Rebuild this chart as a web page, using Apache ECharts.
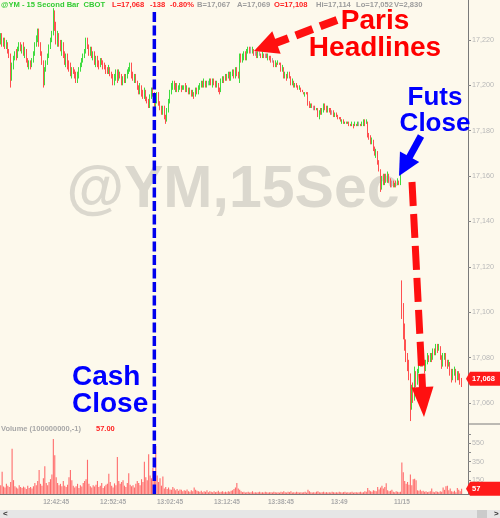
<!DOCTYPE html>
<html><head><meta charset="utf-8">
<script src="https://cdn.jsdelivr.net/npm/echarts@6/dist/echarts.min.js"></script>
<style>html,body{margin:0;padding:0;background:#fdf9ec;}#c{width:500px;height:518px;}</style>
</head><body><div id="c"></div>
<script>
// ---- data ----
const sessions = [
  {day: '11/13', start: '12:33:00', bars: 168},
  {day: '11/13', start: '13:31:30', bars: 114},
  {day: '11/15', start: '15:00:00', bars: 47}
];
const timeTicks = ['12:42:45','12:52:45','13:02:45','13:12:45','13:38:45','13:49:00','11/15 15:00:00'];
const timeTickText = ['12:42:45','12:52:45','13:02:45','13:12:45','13:38:45','13:49','11/15'];
const priceTicks = [17060,17080,17100,17120,17140,17160,17180,17200,17220];
const volumeTicks = [150,350,550];
const volumeTickMarks = [150,250,350,450,550,650];
const cashCloseTime = '13:00:00';
const headerItems = ['@YM - 15 Second Bar  CBOT','L=17,068','-138','-0.80%','B=17,067','A=17,069','O=17,108','Hi=17,114','Lo=17,052','V=2,830'];
// [open, close, low, high]
const ohlc = [
[17220,17222,17218,17223],[17222,17219,17217,17223],[17219,17220,17217,17221],[17220,17218,17216,17221],[17218,17219,17216,17220],
[17219,17215,17214,17219],[17215,17213,17212,17216],[17213,17203,17199,17214],[17203,17209,17202,17210],[17209,17212,17207,17213],
[17212,17214,17211,17215],[17214,17212,17211,17216],[17212,17216,17212,17217],[17216,17218,17215,17219],[17218,17216,17215,17219],
[17216,17217,17214,17218],[17217,17215,17213,17219],[17215,17216,17212,17217],[17216,17211,17210,17216],[17211,17209,17208,17212],
[17209,17210,17207,17211],[17210,17208,17207,17211],[17208,17211,17208,17212],[17211,17214,17210,17215],[17214,17218,17213,17219],
[17218,17221,17217,17222],[17221,17224,17219,17225],[17224,17219,17217,17225],[17219,17214,17213,17219],[17214,17210,17209,17215],
[17210,17201,17199,17211],[17201,17207,17200,17208],[17207,17210,17206,17211],[17210,17213,17209,17214],[17213,17217,17212,17218],
[17217,17220,17216,17221],[17220,17223,17219,17224],[17223,17231,17222,17234],[17231,17226,17224,17233],[17226,17220,17218,17228],
[17220,17223,17217,17224],[17223,17219,17217,17223],[17219,17216,17215,17220],[17216,17218,17213,17220],[17218,17214,17212,17219],
[17214,17211,17209,17215],[17211,17213,17208,17214],[17213,17210,17207,17214],[17210,17208,17206,17211],[17208,17205,17204,17210],
[17205,17207,17203,17208],[17207,17206,17205,17208],[17206,17204,17203,17207],[17204,17202,17201,17206],[17202,17205,17201,17206],
[17205,17207,17203,17208],[17207,17209,17206,17210],[17209,17211,17208,17212],[17211,17213,17210,17214],[17213,17215,17212,17216],
[17215,17220,17214,17221],[17220,17217,17216,17221],[17217,17215,17213,17218],[17215,17216,17213,17217],[17216,17213,17212,17217],
[17213,17214,17211,17215],[17214,17211,17209,17215],[17211,17212,17208,17213],[17212,17210,17208,17213],[17210,17209,17207,17211],
[17209,17211,17208,17212],[17211,17210,17209,17212],[17210,17209,17207,17211],[17209,17208,17207,17210],[17208,17207,17205,17209],
[17207,17206,17205,17208],[17206,17208,17205,17209],[17208,17205,17204,17208],[17205,17204,17203,17206],[17204,17201,17200,17205],
[17201,17204,17200,17205],[17204,17206,17202,17207],[17206,17203,17201,17207],[17203,17205,17202,17207],[17205,17204,17203,17206],
[17204,17201,17200,17205],[17201,17203,17200,17204],[17203,17202,17201,17205],[17202,17204,17201,17205],[17204,17206,17203,17207],
[17206,17207,17205,17208],[17207,17209,17206,17210],[17209,17205,17203,17210],[17205,17203,17202,17206],[17203,17204,17201,17205],
[17204,17202,17201,17205],[17202,17199,17198,17202],[17199,17198,17196,17200],[17198,17200,17196,17201],[17200,17197,17195,17200],
[17197,17195,17194,17198],[17195,17197,17194,17199],[17197,17194,17193,17198],[17194,17193,17192,17195],[17193,17191,17190,17194],
[17191,17195,17190,17196],[17195,17198,17194,17199],[17198,17196,17195,17199],[17196,17191,17190,17197],[17191,17194,17189,17195],
[17194,17196,17192,17197],[17196,17193,17191,17197],[17193,17190,17189,17193],[17190,17188,17187,17191],[17188,17190,17187,17191],
[17190,17186,17185,17191],[17186,17184,17183,17187],[17184,17189,17184,17190],[17189,17192,17188,17194],[17192,17197,17192,17198],
[17197,17200,17196,17201],[17200,17201,17198,17202],[17201,17199,17198,17202],[17199,17200,17197,17201],[17200,17198,17197,17201],
[17198,17199,17197,17200],[17199,17200,17198,17201],[17200,17198,17197,17200],[17198,17199,17198,17200],[17199,17200,17198,17200],
[17200,17198,17197,17201],[17198,17199,17197,17200],[17199,17197,17196,17199],[17197,17198,17196,17199],[17198,17196,17195,17198],
[17196,17197,17195,17198],[17197,17195,17194,17197],[17195,17198,17195,17199],[17198,17197,17196,17199],[17197,17199,17196,17200],
[17199,17200,17198,17201],[17200,17201,17199,17202],[17201,17200,17199,17202],[17200,17202,17199,17203],[17202,17200,17199,17202],
[17200,17201,17199,17202],[17201,17201,17200,17202],[17201,17202,17200,17203],[17202,17200,17200,17203],[17200,17202,17199,17203],
[17202,17201,17200,17203],[17201,17200,17199,17202],[17200,17201,17199,17202],[17201,17198,17197,17201],[17198,17197,17196,17199],
[17197,17202,17197,17203],[17202,17203,17201,17204],[17203,17202,17201,17204],[17202,17204,17202,17205],[17204,17203,17202,17205],
[17203,17205,17203,17206],[17205,17203,17202,17206],[17203,17205,17202,17206],[17205,17206,17204,17207],[17206,17204,17203,17207],
[17204,17207,17203,17208],[17207,17205,17204,17208],[17205,17204,17203,17206],
[17203,17213,17201,17214],[17213,17211,17210,17214],[17211,17213,17210,17214],[17213,17214,17211,17215],[17214,17212,17211,17215],
[17212,17215,17211,17216],[17215,17216,17214,17217],[17216,17215,17214,17217],[17215,17215,17214,17217],[17215,17216,17214,17217],
[17216,17214,17213,17216],[17214,17214,17213,17215],
[17214,17213,17212,17215],[17213,17214,17212,17215],[17214,17214,17213,17215],[17214,17213,17212,17214],[17213,17214,17212,17215],
[17214,17213,17212,17214],[17213,17213,17212,17214],[17213,17212,17212,17214],[17212,17213,17211,17214],[17213,17212,17211,17213],
[17212,17211,17210,17213],[17211,17211,17210,17212],[17211,17209,17208,17211],[17209,17210,17208,17211],[17210,17209,17208,17210],
[17209,17210,17209,17211],[17210,17209,17209,17210],[17209,17207,17206,17210],[17207,17208,17206,17209],[17208,17204,17203,17208],
[17204,17205,17203,17206],[17205,17203,17202,17205],[17203,17205,17203,17206],[17205,17204,17203,17206],[17204,17201,17200,17204],
[17201,17202,17200,17203],[17202,17200,17199,17202],[17200,17201,17199,17201],[17201,17200,17199,17201],[17200,17198,17198,17200],
[17198,17199,17198,17200],[17199,17198,17197,17199],[17198,17197,17197,17198],[17197,17196,17196,17197],[17196,17197,17195,17197],
[17197,17196,17196,17197],[17196,17192,17191,17197],[17192,17191,17190,17193],[17191,17192,17190,17192],[17192,17190,17190,17192],
[17190,17190,17189,17191],[17190,17189,17189,17191],[17189,17190,17189,17190],[17190,17188,17186,17190],[17186,17189,17185,17189],
[17189,17188,17187,17190],[17188,17189,17187,17190],[17189,17191,17188,17192],[17191,17190,17189,17192],[17190,17189,17188,17191],
[17189,17190,17188,17191],[17190,17189,17188,17190],[17189,17188,17187,17190],[17188,17188,17187,17189],[17188,17187,17186,17189],
[17187,17188,17186,17188],[17188,17187,17186,17188],[17187,17186,17185,17187],[17186,17185,17185,17186],[17185,17184,17184,17186],
[17184,17185,17183,17185],[17185,17183,17183,17185],[17183,17184,17183,17184],[17184,17183,17183,17184],[17183,17184,17183,17184],
[17184,17183,17182,17184],[17183,17182,17182,17183],[17182,17183,17182,17184],[17183,17182,17181,17183],[17182,17183,17182,17184],
[17183,17182,17182,17183],[17182,17183,17182,17184],[17183,17183,17182,17184],[17183,17182,17182,17183],[17182,17183,17182,17184],
[17183,17184,17182,17185],[17184,17183,17182,17185],[17183,17184,17183,17185],[17184,17178,17177,17184],[17178,17177,17176,17179],
[17177,17175,17174,17178],[17175,17176,17174,17177],[17176,17172,17171,17176],[17172,17170,17169,17173],[17170,17171,17168,17172],
[17171,17166,17165,17171],[17166,17163,17162,17167],[17163,17155,17153,17163],[17155,17159,17154,17160],[17159,17157,17156,17161],
[17157,17160,17156,17161],[17160,17158,17157,17161],[17158,17161,17157,17162],[17161,17158,17157,17161],[17158,17157,17155,17159],
[17157,17157,17155,17158],[17157,17156,17155,17158],[17156,17157,17155,17157],[17157,17156,17155,17158],[17156,17158,17156,17159],
[17158,17157,17156,17158],[17157,17160,17156,17161],
[17108,17100,17097,17114],[17100,17092,17088,17104],[17092,17086,17083,17095],[17086,17080,17078,17088],[17080,17077,17074,17082],
[17077,17072,17070,17079],[17072,17058,17052,17073],[17058,17066,17057,17068],[17066,17062,17060,17069],[17062,17072,17061,17076],
[17072,17069,17067,17074],[17069,17074,17068,17075],[17074,17081,17073,17083],[17081,17077,17076,17082],[17077,17080,17076,17081],
[17080,17078,17076,17081],[17078,17075,17073,17079],[17075,17078,17074,17079],[17078,17080,17077,17082],[17080,17079,17078,17081],
[17079,17081,17078,17082],[17081,17080,17078,17082],[17080,17083,17079,17084],[17083,17082,17081,17084],[17082,17085,17081,17086],
[17085,17084,17082,17086],[17084,17085,17083,17086],[17085,17080,17079,17085],[17080,17076,17075,17081],[17076,17080,17076,17082],
[17080,17081,17079,17082],[17081,17078,17076,17082],[17078,17077,17075,17079],[17077,17078,17076,17079],[17078,17074,17072,17078],
[17074,17071,17069,17075],[17071,17074,17070,17075],[17074,17075,17072,17076],[17075,17071,17069,17075],[17071,17073,17070,17074],
[17073,17072,17070,17074],[17072,17070,17068,17073],[17070,17068,17067,17071]
];
const volume = [
95,240,80,70,110,90,75,130,490,150,
85,70,60,95,75,65,80,70,55,90,
65,75,60,85,120,95,140,260,110,90,
170,300,120,95,130,160,210,595,420,180,
120,95,110,85,140,90,75,100,180,260,
150,90,70,85,110,65,95,80,120,140,
160,370,110,85,70,95,80,100,140,75,
90,120,65,85,100,110,220,130,90,70,
115,95,400,140,110,130,150,90,75,120,
225,100,85,95,70,110,140,120,95,160,
130,350,180,150,430,200,170,280,240,520,
200,130,170,90,190,60,75,55,70,50,
45,75,60,40,55,35,50,45,30,40,
35,50,30,25,40,30,70,45,35,30,
25,35,20,30,25,40,20,30,25,20,
30,20,25,35,20,25,30,20,25,20,
30,25,35,40,55,70,120,60,45,30,
20,25,15,20,25,15,20,30,15,20,
15,20,25,15,20,15,25,20,15,20,
20,15,25,20,15,20,15,25,20,30,
20,15,25,20,30,15,20,15,25,20,
15,20,15,20,25,15,45,30,20,15,
20,15,25,30,20,15,20,25,15,20,
15,20,15,25,20,15,20,15,25,20,
15,20,25,15,20,15,20,25,15,20,
20,15,20,25,15,20,30,25,65,40,
30,25,40,35,30,75,50,70,90,60,
75,115,40,30,35,45,25,20,30,25,20,25,
340,235,140,110,130,100,210,95,160,165,150,
40,35,45,30,35,25,30,20,25,30,
60,25,20,30,25,20,30,25,70,45,
85,90,40,60,30,25,35,20,65,45,30,57
];

// ---- categories (15-second bar times per session) ----
function pad(n){ return String(n).padStart(2,'0'); }
const categories = [];
sessions.forEach(s => {
  const p = s.start.split(':').map(Number);
  const t0 = p[0]*3600 + p[1]*60 + p[2];
  for (let j = 0; j < s.bars; j++) {
    const t = t0 + 15*j;
    const str = pad(Math.floor(t/3600)) + ':' + pad(Math.floor(t/60)%60) + ':' + pad(t%60);
    categories.push(s.day === sessions[0].day ? str : s.day + ' ' + str);
  }
});
function fmt(v){ return String(v).replace(/\B(?=(\d{3})+(?!\d))/g, ','); }
const isTick = (i, v) => timeTicks.indexOf(v) >= 0;

const FONT = '"Liberation Sans", Arial, sans-serif';
const chart = echarts.init(document.getElementById('c'), null, {renderer: 'canvas'});
chart.setOption({
  animation: false,
  backgroundColor: '#fdf9ec',
  grid: [
    {left: 0, right: 32, top: 0, height: 424},
    {left: 0, right: 32, top: 424, height: 70}
  ],
  xAxis: [
    {type: 'category', gridIndex: 0, data: categories, show: false},
    {type: 'category', gridIndex: 1, data: categories,
     axisLine: {lineStyle: {color: '#7a7a7a'}},
     axisTick: {interval: isTick, alignWithLabel: true, length: 3, lineStyle: {color: '#7a7a7a'}},
     axisLabel: {interval: isTick, formatter: v => timeTickText[timeTicks.indexOf(v)] || '',
       color: '#ababab', fontSize: 6.5, fontWeight: 'bold', fontFamily: FONT, margin: 5}}
  ],
  yAxis: [
    {type: 'value', gridIndex: 0, position: 'right', min: 17050.7, max: 17237.6,
     axisLine: {show: true, lineStyle: {color: '#7a7a7a'}},
     axisTick: {show: true, length: 3, customValues: priceTicks, lineStyle: {color: '#8a8a8a'}},
     axisLabel: {customValues: priceTicks, formatter: fmt, color: '#b8b8b8', fontSize: 7.2, fontFamily: FONT, margin: 4},
     splitLine: {show: false}},
    {type: 'value', gridIndex: 1, position: 'right', min: 0, max: 757,
     axisLine: {show: true, lineStyle: {color: '#7a7a7a'}},
     axisTick: {show: true, length: 3, customValues: volumeTickMarks, lineStyle: {color: '#8a8a8a'}},
     axisLabel: {customValues: volumeTicks, color: '#b8b8b8', fontSize: 7.2, fontFamily: FONT, margin: 4},
     splitLine: {show: false}}
  ],
  series: [
    {type: 'candlestick', xAxisIndex: 0, yAxisIndex: 0, data: ohlc, barWidth: 1,
     itemStyle: {color: '#3fdc3f', color0: '#ff5050', borderColor: '#3fdc3f', borderColor0: '#ff5050',
                 borderColorDoji: '#a8a8a8', borderWidth: 1}},
    {type: 'bar', xAxisIndex: 1, yAxisIndex: 1, data: volume, barWidth: 1.1,
     itemStyle: {color: '#ff6c6c'}}
  ]
});

// ---- annotation overlays ----
const g = [];
function txt(x, y, text, size, color, align, weight, z) {
  g.push({type: 'text', x: x, y: y, z: z == null ? 50 : z, silent: true,
    style: {text: text, fontSize: size, fontWeight: weight || 'bold', fontFamily: FONT, fill: color,
            align: align || 'left', verticalAlign: 'middle', textAlign: align || 'left', textVerticalAlign: 'middle'}});
}
function arrow(x1, y1, x2, y2, color, width, dash, headLen, headHalf) {
  const dx = x2 - x1, dy = y2 - y1, L = Math.hypot(dx, dy), ux = dx / L, uy = dy / L;
  const bx = x2 - ux * headLen, by = y2 - uy * headLen, px = -uy, py = ux;
  g.push({type: 'line', z: 50, silent: true, shape: {x1: x1, y1: y1, x2: bx + ux * 1, y2: by + uy * 1},
    style: {stroke: color, lineWidth: width, lineDash: dash, lineCap: 'butt'}});
  g.push({type: 'polygon', z: 50, silent: true,
    shape: {points: [[x2, y2], [bx + px * headHalf, by + py * headHalf], [bx - px * headHalf, by - py * headHalf]]},
    style: {fill: color}});
}
// watermark
txt(233, 191, '@YM,15Sec', 59, '#dbd8ce', 'center', 'bold', 0);
// header
const headerX = [1, 112, 150, 170, 197, 237, 274, 316, 356, 394];
const headerColor = ['#33cc33','#ff2222','#ff2222','#ff2222','#9c9c9c','#9c9c9c','#ff2222','#9c9c9c','#9c9c9c','#9c9c9c'];
headerItems.forEach((t, k) => txt(headerX[k], 5, t, 7.6, headerColor[k]));
// volume header
txt(1, 429, 'Volume (100000000,-1)', 7.5, '#a8a8a8');
txt(96, 429, fmt(volume[volume.length - 1]) + '.00', 7.5, '#ff2222');
// cash close line
const xCash = chart.convertToPixel({xAxisIndex: 1}, categories.indexOf(cashCloseTime));
g.push({type: 'line', z: 40, silent: true, shape: {x1: xCash, y1: 12, x2: xCash, y2: 494},
  style: {stroke: '#0000ee', lineWidth: 3.5, lineDash: [10, 3.5]}});
// text annotations
txt(375, 21, 'Paris', 28, '#ff0000', 'center');
txt(375, 48, 'Headlines', 28, '#ff0000', 'center');
txt(435, 98, 'Futs', 26, '#0000ff', 'center');
txt(435, 124, 'Close', 26, '#0000ff', 'center');
txt(72, 377, 'Cash', 28, '#0000ff', 'left');
txt(72, 404, 'Close', 28, '#0000ff', 'left');
// arrows
arrow(337, 20, 254, 51, '#ff1010', 8, [18, 8], 24, 12);
arrow(421, 136, 399, 176, '#0000ff', 7, null, 22, 11);
arrow(412, 182, 424, 417, '#ff1010', 7, [24, 8], 30, 11);
// last value flags
const lastClose = ohlc[ohlc.length - 1][1];
const yLast = chart.convertToPixel({yAxisIndex: 0}, lastClose);
const yVol = chart.convertToPixel({yAxisIndex: 1}, volume[volume.length - 1]);
function flag(y, text) {
  g.push({type: 'polygon', z: 60, silent: true,
    shape: {points: [[466, y], [470, y - 7], [500, y - 7], [500, y + 7], [470, y + 7]]}, style: {fill: '#ff1a1a'}});
  txt(472, y, text, 7.5, '#ffffff', 'left', 'bold', 61);
}
flag(yLast - 6, fmt(lastClose));
flag(yVol, String(volume[volume.length - 1]));
// pane separators on axis side
g.push({type: 'line', z: 30, silent: true, shape: {x1: 468, y1: 424, x2: 500, y2: 424}, style: {stroke: '#7a7a7a', lineWidth: 1}});
g.push({type: 'line', z: 30, silent: true, shape: {x1: 468, y1: 494.5, x2: 500, y2: 494.5}, style: {stroke: '#7a7a7a', lineWidth: 1}});
// scrollbar
g.push({type: 'rect', z: 30, silent: true, shape: {x: 0, y: 510, width: 500, height: 8}, style: {fill: '#e6e6e6'}});
g.push({type: 'rect', z: 31, silent: true, shape: {x: 477, y: 510, width: 10, height: 8}, style: {fill: '#cbcbcb'}});
txt(3, 514, '<', 8, '#333333');
txt(494, 514, '>', 8, '#333333');
chart.setOption({graphic: {elements: g}});
</script></body></html>
